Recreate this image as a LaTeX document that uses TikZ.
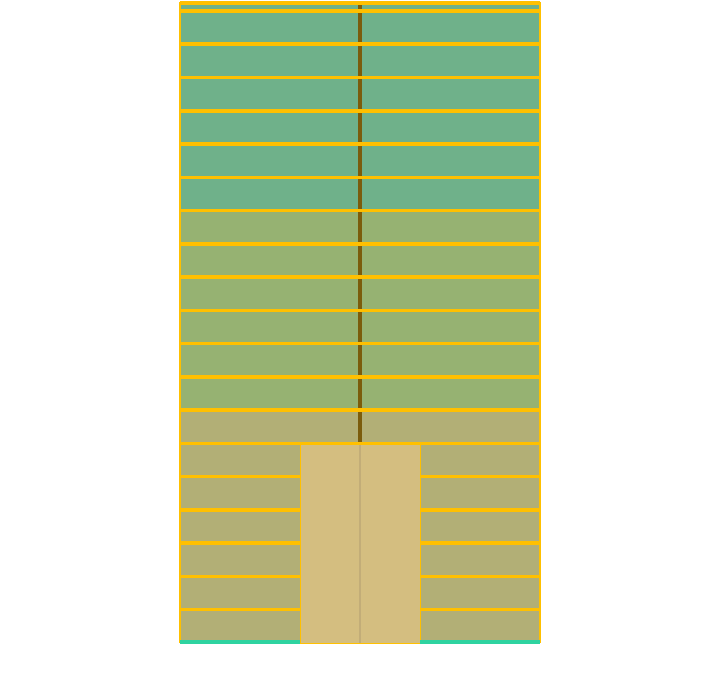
\documentclass[tikz,border=0pt]{standalone}
\usepackage{xcolor}
\usepackage{tikz}
\definecolor{floorgreen}{HTML}{6FB18A}
\definecolor{floorolive}{HTML}{96B272}
\definecolor{floortan}{HTML}{B2AF76}
\definecolor{corecol}{HTML}{D4BE80}
\definecolor{slabcol}{HTML}{FFC000}
\definecolor{basecol}{HTML}{2ED3A0}
\definecolor{spinecol}{HTML}{7B5C0C}
\definecolor{seamcol}{HTML}{C2AD78}

\begin{document}
\begin{tikzpicture}[x=1pt, y=-1pt,
  slab/.style={draw=slabcol, line width=3.6pt},
  wall/.style={draw=slabcol, line width=2pt}]
  \useasboundingbox (0,0) rectangle (720,682);
  \pgfmathsetmacro{\h}{33.26}
  % top strip
  \fill[floorgreen] (180,3) rectangle (540,11);
  % floors
  \foreach \i in {0,...,18}{
    \pgfmathsetmacro{\ya}{11+\h*\i}
    \pgfmathsetmacro{\yb}{11+\h*(\i+1)}
    \ifnum\i<6 \def\fc{floorgreen}\else\ifnum\i<12 \def\fc{floorolive}\else\def\fc{floortan}\fi\fi
    \fill[\fc] (180,\ya) rectangle (540,\yb);
  }
  % core block
  \pgfmathsetmacro{\yc}{11+\h*13}
  \fill[corecol] (300,\yc) rectangle (420,643);
  \draw[seamcol, line width=2pt] (360,\yc) -- (360,643);
  % spine
  \draw[spinecol, line width=3.2pt] (360,3) -- (360,\yc);
  % slab lines
  \draw[slab] (180,3) -- (540,3);
  \foreach \i in {0,...,13}{
    \pgfmathsetmacro{\ya}{11+\h*\i}
    \draw[slab] (180,\ya) -- (540,\ya);
  }
  \foreach \i in {14,...,18}{
    \pgfmathsetmacro{\ya}{11+\h*\i}
    \draw[slab] (180,\ya) -- (300,\ya);
    \draw[slab] (420,\ya) -- (540,\ya);
  }
  % walls
  \draw[wall] (180,2) -- (180,643);
  \draw[wall] (540,2) -- (540,643);
  \draw[slabcol, line width=1pt] (300,\yc) -- (300,643) -- (420,643) -- (420,\yc);
  % base
  \draw[basecol, line width=3.3pt] (180,642) -- (300,642);
  \draw[basecol, line width=3.3pt] (420,642) -- (540,642);
\end{tikzpicture}
\end{document}
